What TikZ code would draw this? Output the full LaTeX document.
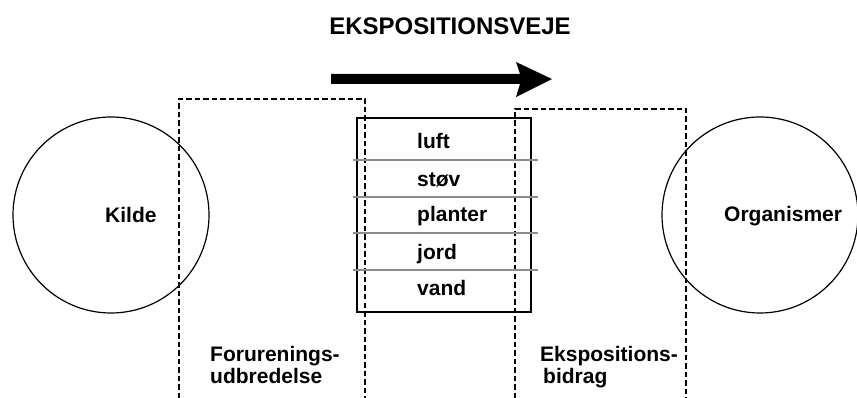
\documentclass[tikz,border=0pt]{standalone}
\usepackage{fontspec}
\setmainfont{Liberation Sans}
\begin{document}
\begin{tikzpicture}[x=1pt,y=-1pt,
  lbl/.style={font=\bfseries\fontsize{21}{22}\selectfont, inner sep=0pt, anchor=base west, text=black},
  dashbox/.style={draw=black, line width=1.1pt, dash pattern=on 5.5pt off 3pt},
  ring/.style={circle, draw=black, line width=1.2pt, minimum size=196pt, inner sep=0pt},
  divider/.style={draw=black!45, line width=1.5pt}]
\useasboundingbox (0,0) rectangle (857,398);
% title
\node[font=\bfseries\fontsize{24}{24}\selectfont, inner sep=0pt, anchor=base] (title) at (450,35) {EKSPOSITIONSVEJE};
% big arrow
\fill[black] (331,74) -- (520,74) -- (516,62) -- (552,79) -- (516,97) -- (520,84) -- (331,84) -- cycle;
% circles
\node[ring] (kildering) at (111,215) {};
\node[ring] (orgring) at (760,215) {};
\node[lbl] (kilde) at (105,223) {Kilde};
\node[lbl] (org) at (724,222) {Organismer};
% dashed open boxes
\draw[dashbox] (179,398) -- (179,99) -- (365,99) -- (365,398);
\draw[dashbox] (515,398) -- (515,109) -- (686,109) -- (686,398);
% media box
\node[draw=black, line width=1.2pt, minimum width=174pt, minimum height=194pt, inner sep=0pt] (media) at (444,215) {};
\coordinate (d1a) at (353,160); \coordinate (d1b) at (538,160);
\coordinate (d2a) at (353,197); \coordinate (d2b) at (538,197);
\coordinate (d3a) at (353,233); \coordinate (d3b) at (538,233);
\coordinate (d4a) at (353,270); \coordinate (d4b) at (538,270);
\draw[divider] (d1a) -- (d1b);
\draw[divider] (d2a) -- (d2b);
\draw[divider] (d3a) -- (d3b);
\draw[divider] (d4a) -- (d4b);
\node[lbl] (luft) at (417,149) {luft};
\node[lbl] (stov) at (417,187) {støv};
\node[lbl] (planter) at (417,222) {planter};
\node[lbl] (jord) at (417,259) {jord};
\node[lbl] (vand) at (417,295) {vand};
% bottom labels
\node[lbl] (for1) at (210,361) {Forurenings-};
\node[lbl] (for2) at (210,383) {udbredelse};
\node[lbl] (eks1) at (540,361) {Ekspositions-};
\node[lbl] (eks2) at (543,383) {bidrag};
\end{tikzpicture}
\end{document}
